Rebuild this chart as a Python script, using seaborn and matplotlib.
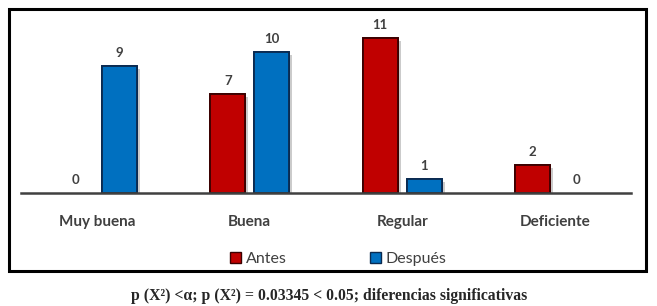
import matplotlib
matplotlib.use("Agg")
import matplotlib.pyplot as plt
import matplotlib.patches as mpatches
import matplotlib.patheffects as pe
import seaborn as sns
import pandas as pd

# data
categorias = ["Muy buena", "Buena", "Regular", "Deficiente"]
antes = [0, 7, 11, 2]
despues = [9, 10, 1, 0]
grupos = ["Antes", "Después"]
colores = {"Antes": "#C00000", "Después": "#0070C0"}
bordes = {"Antes": "#3a0000", "Después": "#0a2a50"}
caption = "p (X²) <α; p (X²) = 0.03345 < 0.05; diferencias significativas"

df = pd.DataFrame({
    "categoria": categorias * 2,
    "valor": antes + despues,
    "grupo": ["Antes"] * len(antes) + ["Después"] * len(despues),
})

sns.set_theme(style="white")
plt.rcParams["font.family"] = ["Lato", "DejaVu Sans"]

fig = plt.figure(figsize=(6.57, 3.06), dpi=100)
ax = fig.add_axes([21 / 657, 113 / 306, 610 / 657, 169 / 306])

sns.barplot(data=df, x="categoria", y="valor", hue="grupo", order=categorias,
            hue_order=grupos, palette=colores, width=0.576, gap=0.2,
            legend=False, ax=ax, saturation=1)

for cont, g in zip(ax.containers, grupos):
    for bar in cont:
        if bar.get_height() == 0:
            # nothing to draw for an empty bar, only its label
            bar.set_visible(False)
            continue
        bar.set_edgecolor(bordes[g])
        bar.set_linewidth(1.3)
        bar.set_path_effects([pe.withSimplePatchShadow(offset=(2, -2),
                                                       shadow_rgbFace="#999999",
                                                       alpha=0.5),
                              pe.Normal()])
    ax.bar_label(cont, labels=[f"{v:d}" for v in (antes if g == "Antes" else despues)],
                 padding=5, fontsize=9.5, fontweight="bold", color="#404040")

ax.set_xlim(-0.5, 3.5)
ax.set_ylim(0, 12)
ax.set_xlabel("")
ax.set_ylabel("")
ax.set_yticks([])
for s in ["left", "right", "top"]:
    ax.spines[s].set_visible(False)
ax.spines["bottom"].set_color("#404040")
ax.spines["bottom"].set_linewidth(1.8)
ax.tick_params(axis="x", length=0, pad=16, labelsize=11, labelcolor="#404040")
for t in ax.get_xticklabels():
    t.set_fontweight("bold")

handles = [mpatches.Patch(facecolor=colores[g], edgecolor=bordes[g], label=g)
           for g in grupos]
fig.legend(handles=handles, loc="center", bbox_to_anchor=(338 / 657, 1 - 259 / 306),
           ncol=2, frameon=False, fontsize=11.5, handlelength=0.7,
           handleheight=0.7, handletextpad=0.3, columnspacing=5.2,
           labelcolor="#404040")

# frame round the chart
fig.patches.append(mpatches.Rectangle((9 / 657, 1 - 271 / 306), 637 / 657, 262 / 306,
                                      transform=fig.transFigure, fill=False,
                                      edgecolor="black", linewidth=2.2))

fig.text(329 / 657, 1 - 296 / 306, caption, ha="center", va="center",
         fontsize=11.3, fontweight="bold", family=["Liberation Serif", "DejaVu Serif"])

fig.savefig("out.png", dpi=100)
